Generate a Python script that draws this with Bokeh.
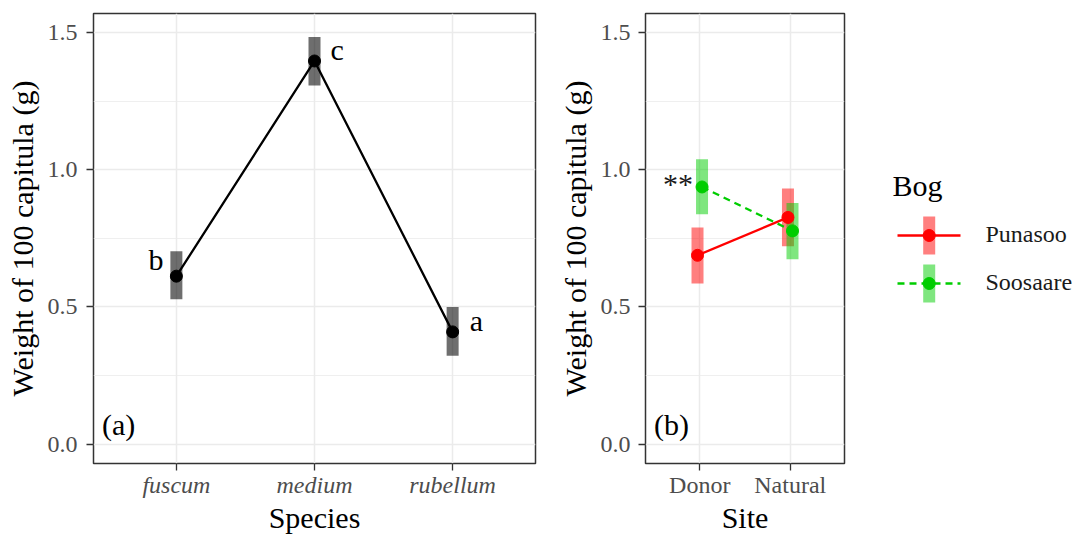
from bokeh.plotting import figure
from bokeh.models import ColumnDataSource, FactorRange, Range1d, FixedTicker, Label, PrintfTickFormatter
from bokeh.transform import dodge
from bokeh.layouts import row
from bokeh.core.properties import value
from bokeh.embed import file_html
from bokeh.resources import INLINE

# ---- panel (a): capitulum weight by species ----
species = ["fuscum", "medium", "rubellum"]
species_mean = [0.612, 1.396, 0.409]
species_lower = [0.528, 1.307, 0.322]
species_upper = [0.703, 1.483, 0.500]
species_letters = ["b", "c", "a"]

# ---- panel (b): capitulum weight by site and bog ----
sites = ["Donor", "Natural"]
bogs = ["Punasoo", "Soosaare"]
punasoo_mean = [0.688, 0.826]
punasoo_lower = [0.585, 0.721]
punasoo_upper = [0.789, 0.931]
soosaare_mean = [0.937, 0.777]
soosaare_lower = [0.838, 0.674]
soosaare_upper = [1.038, 0.879]
soosaare_signif = ["**", ""]

y_ticks = [0.0, 0.5, 1.0, 1.5]
y_tick_labels = ["0.0", "0.5", "1.0", "1.5"]
y_minor_ticks = [0.25, 0.75, 1.25]

SERIF = "Liberation Serif"
BOG_COLORS = ["#ff0000", "#00cd00"]
BOG_DASHES = ["solid", "7 5"]
Y_RANGE = (-0.0705, 1.569)


def style_panel(p, y_label_standoff):
    p.background_fill_color = "white"
    p.border_fill_color = "white"
    p.outline_line_color = "#333333"
    p.outline_line_width = 1.5

    ticker = FixedTicker(ticks=y_ticks, minor_ticks=y_minor_ticks)
    p.yaxis.ticker = ticker
    p.ygrid.ticker = ticker
    p.yaxis.formatter = PrintfTickFormatter(format="%.1f")
    p.yaxis.major_label_overrides = dict(zip(y_ticks, y_tick_labels))

    p.xgrid.grid_line_color = "#ebebeb"
    p.xgrid.grid_line_width = 1.5
    p.ygrid.grid_line_color = "#ebebeb"
    p.ygrid.grid_line_width = 1.5
    p.ygrid.minor_grid_line_color = "#ebebeb"
    p.ygrid.minor_grid_line_width = 0.8

    for ax in (p.xaxis, p.yaxis):
        ax.axis_line_color = None
        ax.major_tick_line_color = "#333333"
        ax.major_tick_line_width = 1.3
        ax.major_tick_out = 7
        ax.major_tick_in = 0
        ax.minor_tick_line_color = None
        ax.major_label_text_font = SERIF
        ax.major_label_text_font_size = "24px"
        ax.major_label_text_color = "#4d4d4d"
        ax.axis_label_text_font = SERIF
        ax.axis_label_text_font_size = "30px"
        ax.axis_label_text_font_style = "normal"
        ax.axis_label_text_color = "black"
    p.xaxis.major_label_standoff = 1
    p.xaxis.axis_label_standoff = 0
    p.yaxis.major_label_standoff = y_label_standoff
    p.yaxis.axis_label_standoff = 6


def panel_tag(p, x, text):
    p.add_layout(Label(x=x, y=0.07, text=text, text_font=SERIF, text_font_size="30px",
                       text_color="black", text_baseline="alphabetic", text_align="left"))


# ---------------- panel (a) ----------------
p1 = figure(title=None, align="start",
            x_range=FactorRange(factors=species, range_padding=0.1, range_padding_units="absolute"),
            y_range=Range1d(*Y_RANGE),
            frame_width=442, frame_height=450,
            min_border_left=93, min_border_right=5, min_border_top=13, min_border_bottom=71,
            toolbar_location=None, output_backend="svg",
            x_axis_label="Species", y_axis_label="Weight of 100 capitula (g)")
style_panel(p1, 9)
p1.xaxis.major_label_text_font_style = "italic"

src1 = ColumnDataSource(dict(species=species, mean=species_mean, lower=species_lower,
                             upper=species_upper, letters=species_letters,
                             dx=[-13, 16, 17], dy=[-17, -11, -11], align=["right", "left", "left"]))
p1.segment(x0="species", y0="lower", x1="species", y1="upper", source=src1,
           line_width=12, line_color="black", line_alpha=0.57)
p1.line(x="species", y="mean", source=src1, line_width=2.3, line_color="black")
p1.scatter(x="species", y="mean", source=src1, size=12, color="black")
p1.text(x="species", y="mean", text="letters", source=src1, x_offset="dx", y_offset="dy",
        text_align="align", text_baseline="alphabetic",
        text_font=value(SERIF), text_font_size=value("30px"), text_color="black")
panel_tag(p1, -0.038, "(a)")

# ---------------- panel (b) ----------------
p2 = figure(title=None, align="start",
            x_range=FactorRange(factors=sites, range_padding=0.1, range_padding_units="absolute"),
            y_range=Range1d(*Y_RANGE),
            frame_width=199, frame_height=450,
            min_border_left=105, min_border_right=16, min_border_top=13, min_border_bottom=71,
            toolbar_location=None, output_backend="svg",
            x_axis_label="Site", y_axis_label="Weight of 100 capitula (g)")
style_panel(p2, 8)

src_pun = ColumnDataSource(dict(site=sites, mean=punasoo_mean, lower=punasoo_lower,
                                upper=punasoo_upper, signif=["", ""]))
src_soo = ColumnDataSource(dict(site=sites, mean=soosaare_mean, lower=soosaare_lower,
                                upper=soosaare_upper, signif=soosaare_signif))
bog_sources = [src_pun, src_soo]
shifts = [-0.025, 0.025]

for src, color, shift in zip(bog_sources, BOG_COLORS, shifts):
    xs = dodge("site", shift, range=p2.x_range)
    p2.segment(x0=xs, y0="lower", x1=xs, y1="upper", source=src,
               line_width=12, line_color=color, line_alpha=0.5)
for src, color, dash, shift in zip(bog_sources, BOG_COLORS, BOG_DASHES, shifts):
    xs = dodge("site", shift, range=p2.x_range)
    p2.line(x=xs, y="mean", source=src, line_width=2.3, line_color=color, line_dash=dash)
for src, color, shift in zip(bog_sources, BOG_COLORS, shifts):
    xs = dodge("site", shift, range=p2.x_range)
    p2.scatter(x=xs, y="mean", source=src, size=12, color=color)

p2.text(x=dodge("site", shifts[1], range=p2.x_range), y="mean", text="signif", source=src_soo,
        x_offset=-9, y_offset=-3, text_align="right", text_baseline="alphabetic",
        text_font=value(SERIF), text_font_size=value("30px"), text_color="#1a1a1a")
panel_tag(p2, -0.005, "(b)")

# ---------------- legend (pixel coordinates of the page) ----------------
p3 = figure(title=None, align="start", x_range=Range1d(0, 215), y_range=Range1d(463, 13),
            frame_width=215, frame_height=450,
            min_border_left=0, min_border_right=0, min_border_top=13, min_border_bottom=71,
            x_axis_type=None, y_axis_type=None,
            toolbar_location=None, output_backend="svg")
p3.grid.visible = False
p3.outline_line_color = None
p3.background_fill_color = "white"
p3.border_fill_color = "white"

p3.text(x=[32], y=[185], text=["Bog"], text_font=value(SERIF), text_font_size=value("30px"),
        text_color="black", text_baseline="alphabetic")
key_rows = [235 + 48 * i for i in range(len(bogs))]
key_x = 68.7
for yc, bog, color, dash in zip(key_rows, bogs, BOG_COLORS, BOG_DASHES):
    p3.segment(x0=[key_x], y0=[yc - 19], x1=[key_x], y1=[yc + 19],
               line_width=12, line_color=color, line_alpha=0.5)
    p3.segment(x0=[37], y0=[yc], x1=[100], y1=[yc], line_width=2.3,
               line_color=color, line_dash=dash)
    p3.scatter(x=[key_x], y=[yc], size=12, color=color)
    p3.text(x=[125], y=[yc - 2], text=[bog], text_font=value(SERIF),
            text_font_size=value("24px"), text_color="#1a1a1a", text_baseline="alphabetic")

layout = row(p1, p2, p3, spacing=0)
open("out.html", "w").write(file_html(layout, INLINE))
